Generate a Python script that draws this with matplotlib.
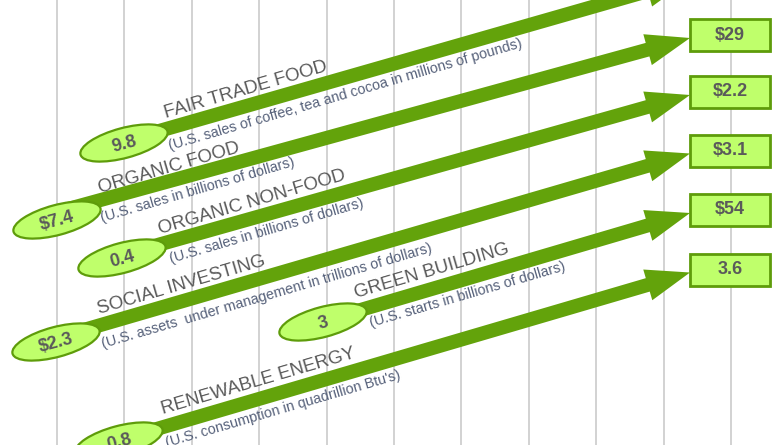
import matplotlib
matplotlib.use("Agg")
import matplotlib.pyplot as plt
from matplotlib.patches import Ellipse, Rectangle, FancyArrow

plt.rcParams['font.family'] = ['Liberation Sans', 'DejaVu Sans']

categories = ["FAIR TRADE FOOD", "ORGANIC FOOD", "ORGANIC NON-FOOD",
              "SOCIAL INVESTING", "GREEN BUILDING", "RENEWABLE ENERGY"]
units = ["(U.S. sales of coffee, tea and cocoa in millions of pounds)",
         "(U.S. sales in billions of dollars)",
         "(U.S. sales in billions of dollars)",
         "(U.S. assets  under management in trillions of dollars)",
         "(U.S. starts in billions of dollars)",
         "(U.S. consumption in quadrillion Btu's)"]
start_values = ["9.8", "$7.4", "0.4", "$2.3", "3", "0.8"]
end_values = ["", "$29", "$2.2", "$3.1", "$54", "3.6"]

# layout, in pixels with y going down
bubble_x = [124, 57, 122, 56, 323, 119]
bubble_y = [143, 220, 258, 342, 322, 441]
tail_y = [141, 212, 255, 338, 321, 440]
title_x = [166, 100, 160, 99, 356, 163]
title_y = [118, 193, 234, 314, 298, 414]
unit_x = [170, 102, 171, 103, 371, 167]
unit_y = [150, 222, 263, 348, 327, 447]
box_y = [-24, 35, 92, 150.5, 210, 269.5]
grid_x = [57 + 67.4 * k for k in range(11)]

arrow_col = '#63a30b'
fill_col = '#bfff6b'
edge_col = '#5e9c0a'
text_col = '#5a5a5a'
unit_col = '#56617a'
rot = 16.3

fig = plt.figure(figsize=(7.81, 4.45), dpi=100)
ax = fig.add_axes([0, 0, 1, 1])
ax.set_xlim(0, 781)
ax.set_ylim(445, 0)
ax.axis('off')

for gx in grid_x:
    ax.axvline(gx, color='#c6c6c6', lw=1.1, zorder=0)

box_left = 690
for i in range(len(categories)):
    x0, y0 = bubble_x[i], tail_y[i]
    tx, ty = box_left, box_y[i] + 3
    ax.add_patch(FancyArrow(x0, y0, tx - x0, ty - y0, width=14, head_width=32,
                            head_length=44, length_includes_head=True,
                            color=arrow_col, lw=0, zorder=2))
    ax.add_patch(Ellipse((bubble_x[i], bubble_y[i]), 90, 30, angle=-15,
                         facecolor=fill_col, edgecolor=edge_col, lw=1.6, zorder=3))
    ax.text(bubble_x[i], bubble_y[i] + 1, start_values[i], rotation=15,
            ha='center', va='center', fontsize=13, fontweight='bold',
            color=text_col, zorder=4, rotation_mode='anchor')
    ax.add_patch(Rectangle((box_left, box_y[i] - 16), 80, 32, facecolor=fill_col,
                           edgecolor=edge_col, lw=2, zorder=3))
    ax.text(box_left + 40, box_y[i], end_values[i], ha='center', va='center',
            fontsize=13, fontweight='bold', color=text_col, zorder=4)
    ax.text(title_x[i], title_y[i], categories[i], rotation=rot, ha='left',
            va='baseline', rotation_mode='anchor', fontsize=13.5, color=text_col,
            zorder=5)
    ax.text(unit_x[i], unit_y[i], units[i], rotation=rot, ha='left',
            va='baseline', rotation_mode='anchor', fontsize=10.4, color=unit_col,
            zorder=5)

fig.savefig("out.png", dpi=100)
